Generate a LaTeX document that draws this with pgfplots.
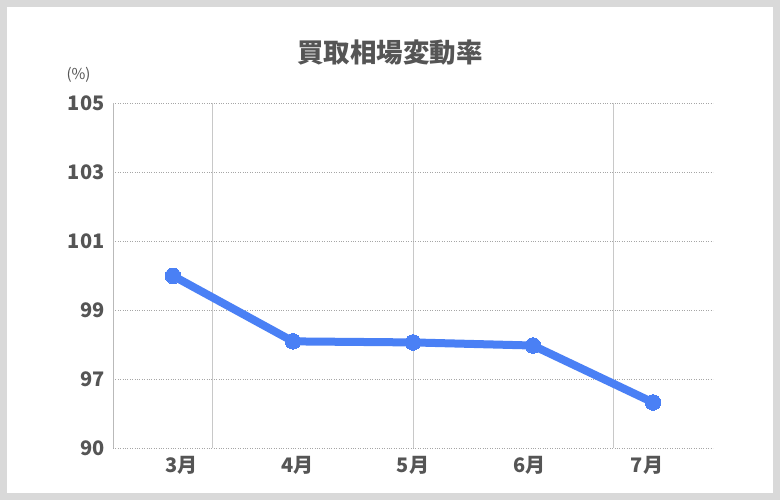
\documentclass[border=0pt]{standalone}
\usepackage{pgfplots}
\pgfplotsset{compat=1.18}
\usepackage{fontspec}
\setmainfont{Noto Sans CJK JP}
\definecolor{framegray}{RGB}{217,217,217}
\definecolor{txtgray}{RGB}{85,85,85}
\definecolor{gridgray}{RGB}{200,200,200}
\definecolor{axisgray}{RGB}{185,185,185}
\definecolor{lineblue}{RGB}{74,128,245}

% values (bottom tick is labelled 90 but sits at 95)
\pgfplotstableread{
idx val
0 99.99
1 98.09
2 98.06
3 97.97
4 96.32
}\rates

\begin{document}
\begin{tikzpicture}[x=1pt,y=1pt]
	\fill[framegray] (0,0) rectangle (780,500);
	\fill[white] (7,7) rectangle (773,493);
	\node[font=\fontsize{26.5}{30}\selectfont\bfseries, text=txtgray] at (390,447.5) {買取相場変動率};
	\node[font=\fontsize{15}{18}\selectfont, text=txtgray] at (78.5,425) {(\%)};
	\begin{axis}[
		at={(113pt,52pt)}, anchor=south west,
		scale only axis, width=600pt, height=345pt,
		xmin=-0.5, xmax=4.5, ymin=95, ymax=105,
		axis line style={draw=none},
		clip=false,
		xtick={0.333,2,3.667}, xticklabels={},
		xmajorgrids, major x grid style={gridgray, line width=1pt},
		extra x ticks={0.07,1.035,2.0,2.97,3.95},
		extra x tick labels={3月,4月,5月,6月,7月},
		extra x tick style={grid=none, major tick length=0pt},
		x tick label style={font=\fontsize{20}{24}\selectfont\bfseries, text=txtgray, yshift=-5pt},
		ytick={95,97,99,101,103,105},
		yticklabels={90,97,99,101,103,105},
		ymajorgrids, major y grid style={gray!70, dotted, line width=0.8pt},
		y tick label style={font=\fontsize{20}{24}\selectfont\bfseries, text=txtgray, xshift=-5pt},
		/pgf/number format/assume math mode=true,
		tick style={draw=none},
	]
		\draw[axisgray, line width=1pt] (axis cs:-0.5,95) -- (axis cs:-0.5,105);
		\addplot[lineblue, line width=8pt, mark=*, mark size=7.8pt, mark options={fill=lineblue, draw=lineblue, line width=0pt}] table[x=idx, y=val] {\rates};
	\end{axis}
\end{tikzpicture}
\end{document}
